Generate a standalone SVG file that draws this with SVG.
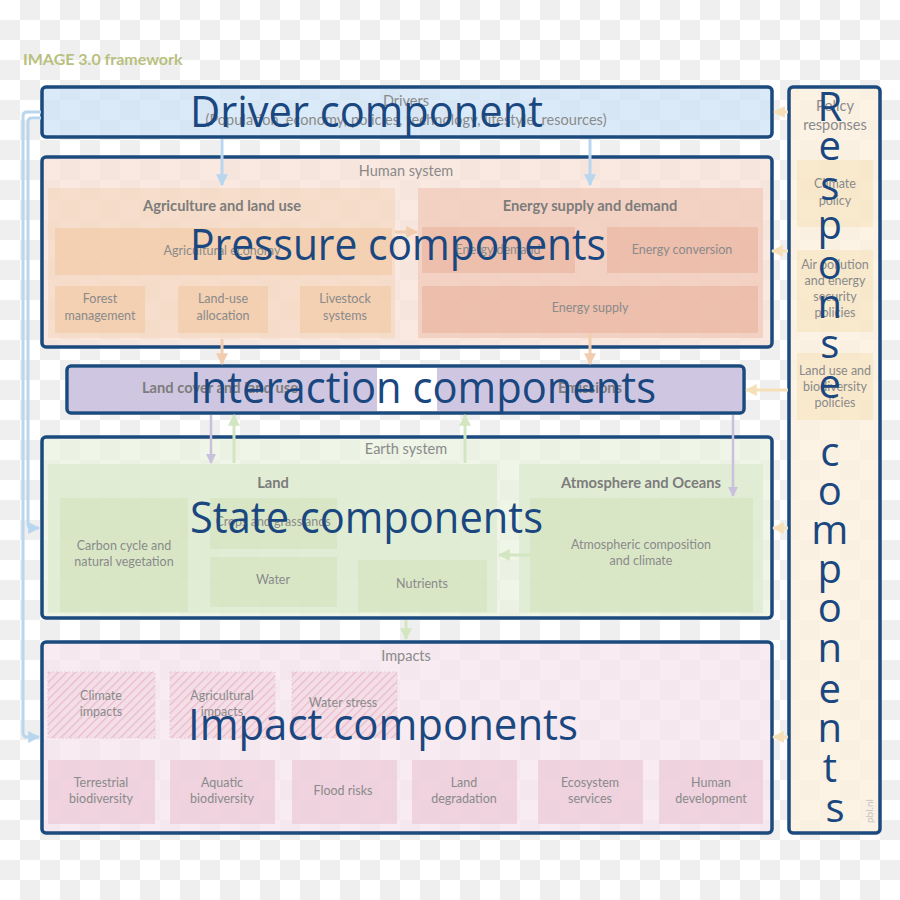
<svg xmlns="http://www.w3.org/2000/svg" width="900" height="900" viewBox="0 0 900 900">
<defs>
<pattern id="checker" x="0" y="0" width="40" height="40" patternUnits="userSpaceOnUse">
<rect width="40" height="40" fill="#ffffff"/>
<rect x="20" y="0" width="20" height="20" fill="#efefef"/>
<rect x="0" y="20" width="20" height="20" fill="#efefef"/>
</pattern>
<pattern id="hatch" width="6" height="6" patternUnits="userSpaceOnUse" patternTransform="rotate(45)">
<rect width="6" height="6" fill="#f3dbe4" fill-opacity="0.7"/>
<line x1="0" y1="0" x2="0" y2="6" stroke="#eab9c9" stroke-width="2.5"/>
</pattern>
<marker id="mBlue" viewBox="0 0 10 10" refX="9" refY="5" markerWidth="4" markerHeight="4" orient="auto" markerUnits="strokeWidth"><path d="M0,0 L10,5 L0,10 z" fill="#b9d6ef"/></marker>
<marker id="mPeach" viewBox="0 0 10 10" refX="9" refY="5" markerWidth="4" markerHeight="4" orient="auto" markerUnits="strokeWidth"><path d="M0,0 L10,5 L0,10 z" fill="#f2ccae"/></marker>
<marker id="mPurple" viewBox="0 0 10 10" refX="9" refY="5" markerWidth="4" markerHeight="4" orient="auto" markerUnits="strokeWidth"><path d="M0,0 L10,5 L0,10 z" fill="#c9c0dd"/></marker>
<marker id="mGreen" viewBox="0 0 10 10" refX="9" refY="5" markerWidth="4" markerHeight="4" orient="auto" markerUnits="strokeWidth"><path d="M0,0 L10,5 L0,10 z" fill="#d3e6c2"/></marker>
<marker id="mPolicy" viewBox="0 0 10 10" refX="9" refY="5" markerWidth="4" markerHeight="4" orient="auto" markerUnits="strokeWidth"><path d="M0,0 L10,5 L0,10 z" fill="#f6e0b9"/></marker>
</defs>
<style>
.frame{stroke:#1b4a7e;stroke-width:3.5;}
.lbl{font-family:Lato,"Open Sans",sans-serif;font-size:12.5px;fill:#8a8a8a;text-anchor:middle;}
.hdr{font-family:Lato,"Open Sans",sans-serif;font-size:14.5px;fill:#8a8a8a;text-anchor:middle;}
.ttl{font-family:Lato,"Open Sans",sans-serif;font-size:14.7px;font-weight:bold;fill:#7c7c7c;text-anchor:middle;}
.big{font-family:"Open Sans","Noto Sans",sans-serif;font-size:43px;fill:#1a4780;}
.vert{font-family:"Open Sans","Noto Sans",sans-serif;font-size:40px;fill:#1a4780;text-anchor:middle;}
.c-blue{fill:none;stroke:#b9d6ef;stroke-width:3;marker-end:url(#mBlue);}
.c-peach{fill:none;stroke:#f2ccae;stroke-width:3;marker-end:url(#mPeach);}
.c-purple{fill:none;stroke:#c9c0dd;stroke-width:2.5;marker-end:url(#mPurple);}
.c-green{fill:none;stroke:#d3e6c2;stroke-width:3;marker-end:url(#mGreen);}
.c-policy{fill:none;stroke:#f6e0b9;stroke-width:3;marker-end:url(#mPolicy);}
</style>

<rect width="900" height="900" fill="url(#checker)"/>

<text x="23" y="65" font-family="Lato,'Open Sans',sans-serif" font-size="16" font-weight="bold" fill="#b9c07f">IMAGE 3.0 framework</text>

<!-- Driver component -->
<g id="driver">
<rect x="42" y="87" width="730" height="50" rx="4" fill="#cde3f6" fill-opacity="0.75" class="frame"/>
<text x="406" y="106" class="hdr">Drivers</text>
<text x="406" y="125" class="hdr" textLength="401" lengthAdjust="spacing">(Population, economy, policies, technology, lifestyle, resources)</text>
</g>

<!-- Human system / Pressure components -->
<g id="human-system">
<rect x="42" y="157" width="730" height="190" rx="4" fill="#f8e2d6" fill-opacity="0.75" class="frame"/>
<text x="406" y="176" class="hdr">Human system</text>
<g id="agriculture">
<rect x="48" y="188" width="347" height="150" fill="#f5d6bd" fill-opacity="0.6"/>
<text x="222" y="211" class="ttl">Agriculture and land use</text>
<rect x="55" y="228" width="337" height="47" fill="#f0c69f" fill-opacity="0.55"/>
<text x="222" y="255" class="lbl">Agricultural economy</text>
<rect x="55" y="286" width="90" height="47" fill="#f0c69f" fill-opacity="0.55"/>
<text x="100" y="303" class="lbl">Forest</text>
<text x="100" y="320" class="lbl">management</text>
<rect x="178" y="286" width="90" height="47" fill="#f0c69f" fill-opacity="0.55"/>
<text x="223" y="303" class="lbl">Land-use</text>
<text x="223" y="320" class="lbl">allocation</text>
<rect x="300" y="286" width="91" height="47" fill="#f0c69f" fill-opacity="0.55"/>
<text x="345" y="303" class="lbl">Livestock</text>
<text x="345" y="320" class="lbl">systems</text>
</g>
<g id="energy">
<rect x="418" y="188" width="345" height="150" fill="#f1c6b4" fill-opacity="0.65"/>
<text x="590" y="211" class="ttl">Energy supply and demand</text>
<rect x="422" y="227" width="153" height="46" fill="#e7ae9a" fill-opacity="0.55"/>
<text x="498" y="254" class="lbl">Energy demand</text>
<rect x="607" y="227" width="151" height="46" fill="#e7ae9a" fill-opacity="0.55"/>
<text x="682" y="254" class="lbl">Energy conversion</text>
<rect x="422" y="286" width="336" height="47" fill="#e7ae9a" fill-opacity="0.55"/>
<text x="590" y="312" class="lbl">Energy supply</text>
</g>
</g>

<!-- Interaction components -->
<g id="interaction">
<rect x="67" y="366" width="677" height="47" rx="4" fill="#ffffff" class="frame"/>
<rect x="69" y="368" width="308" height="43" fill="#c3b9d9" fill-opacity="0.8"/>
<rect x="437" y="368" width="305" height="43" fill="#c3b9d9" fill-opacity="0.8"/>
<text x="220" y="393" class="ttl">Land cover and land use</text>
<text x="590" y="393" class="ttl">Emissions</text>
</g>

<!-- Earth system / State components -->
<g id="earth-system">
<rect x="42" y="437" width="730" height="181" rx="4" fill="#e9f1df" fill-opacity="0.75" class="frame"/>
<text x="406" y="454" class="hdr">Earth system</text>
<g id="land">
<rect x="48" y="464" width="449" height="149" fill="#dde9cd" fill-opacity="0.7"/>
<text x="273" y="488" class="ttl">Land</text>
<rect x="60" y="498" width="128" height="114" fill="#d3e2bd" fill-opacity="0.6"/>
<text x="124" y="550" class="lbl">Carbon cycle and</text>
<text x="124" y="566" class="lbl">natural vegetation</text>
<rect x="210" y="498" width="127" height="51" fill="#d3e2bd" fill-opacity="0.6"/>
<text x="273" y="526" class="lbl">Crops and grasslands</text>
<rect x="210" y="557" width="127" height="50" fill="#d3e2bd" fill-opacity="0.6"/>
<text x="273" y="584" class="lbl">Water</text>
<rect x="358" y="560" width="129" height="52" fill="#d3e2bd" fill-opacity="0.6"/>
<text x="422" y="588" class="lbl">Nutrients</text>
</g>
<g id="atmosphere">
<rect x="519" y="464" width="244" height="149" fill="#dde9cd" fill-opacity="0.7"/>
<text x="641" y="488" class="ttl">Atmosphere and Oceans</text>
<rect x="530" y="498" width="223" height="114" fill="#d3e2bd" fill-opacity="0.6"/>
<text x="641" y="549" class="lbl">Atmospheric composition</text>
<text x="641" y="565" class="lbl">and climate</text>
</g>
</g>

<!-- Impacts -->
<g id="impacts">
<rect x="42" y="642" width="730" height="191" rx="4" fill="#f6e4ec" fill-opacity="0.75" class="frame"/>
<text x="406" y="661" class="hdr">Impacts</text>
<rect x="48" y="672" width="107" height="66" fill="url(#hatch)" stroke="#e8c8d4" stroke-dasharray="2 2" stroke-width="0.8"/>
<text x="101" y="700" class="lbl">Climate</text>
<text x="101" y="716" class="lbl">impacts</text>
<rect x="170" y="672" width="105" height="66" fill="url(#hatch)" stroke="#e8c8d4" stroke-dasharray="2 2" stroke-width="0.8"/>
<text x="222" y="700" class="lbl">Agricultural</text>
<text x="222" y="716" class="lbl">impacts</text>
<rect x="292" y="672" width="105" height="66" fill="url(#hatch)" stroke="#e8c8d4" stroke-dasharray="2 2" stroke-width="0.8"/>
<text x="343" y="707" class="lbl">Water stress</text>
<rect x="48" y="760" width="107" height="64" fill="#ebc6d5" fill-opacity="0.65"/>
<text x="101" y="787" class="lbl">Terrestrial</text>
<text x="101" y="803" class="lbl">biodiversity</text>
<rect x="170" y="760" width="105" height="64" fill="#ebc6d5" fill-opacity="0.65"/>
<text x="222" y="787" class="lbl">Aquatic</text>
<text x="222" y="803" class="lbl">biodiversity</text>
<rect x="292" y="760" width="105" height="64" fill="#ebc6d5" fill-opacity="0.65"/>
<text x="343" y="795" class="lbl">Flood risks</text>
<rect x="412" y="760" width="105" height="64" fill="#ebc6d5" fill-opacity="0.65"/>
<text x="464" y="787" class="lbl">Land</text>
<text x="464" y="803" class="lbl">degradation</text>
<rect x="538" y="760" width="105" height="64" fill="#ebc6d5" fill-opacity="0.65"/>
<text x="590" y="787" class="lbl">Ecosystem</text>
<text x="590" y="803" class="lbl">services</text>
<rect x="659" y="760" width="104" height="64" fill="#ebc6d5" fill-opacity="0.65"/>
<text x="711" y="787" class="lbl">Human</text>
<text x="711" y="803" class="lbl">development</text>
</g>

<!-- Policy responses -->
<g id="policy-responses">
<rect x="789" y="87" width="91" height="746" rx="4" fill="#fbf0df" fill-opacity="0.8" class="frame"/>
<text x="835" y="111" class="hdr">Policy</text>
<text x="835" y="130" class="hdr">responses</text>
<rect x="797" y="160" width="76" height="67" fill="#f6e2bd" fill-opacity="0.6"/>
<text x="835" y="188" class="lbl">Climate</text>
<text x="835" y="205" class="lbl">policy</text>
<rect x="797" y="250" width="76" height="82" fill="#f6e2bd" fill-opacity="0.6"/>
<text x="835" y="269" class="lbl">Air pollution</text>
<text x="835" y="285" class="lbl">and energy</text>
<text x="835" y="301" class="lbl">security</text>
<text x="835" y="317" class="lbl">policies</text>
<rect x="797" y="353" width="76" height="67" fill="#f6e2bd" fill-opacity="0.6"/>
<text x="835" y="375" class="lbl">Land use and</text>
<text x="835" y="391" class="lbl">biodiversity</text>
<text x="835" y="407" class="lbl">policies</text>
<text x="873" y="823" transform="rotate(-90 873 823)" font-family="Lato,sans-serif" font-size="10" fill="#c4c4c4">pbl.nl</text>
</g>

<!-- Connectors -->
<g id="connectors">
<path d="M41,112 H27 Q23,112 23,116 V733 Q23,737 27,737 H39" class="c-blue"/>
<path d="M41,118 H32 Q28,118 28,122 V524 Q28,528 32,528 H39" class="c-blue"/>
<path d="M222,139 V185" class="c-blue"/>
<path d="M590,139 V185" class="c-blue"/>
<path d="M395,232 H417" class="c-peach"/>
<path d="M222,339 V364" class="c-peach"/>
<path d="M590,333 V364" class="c-peach"/>
<path d="M211,415 V463" class="c-purple"/>
<path d="M234,463 V415" class="c-green"/>
<path d="M465,463 V415" class="c-green"/>
<path d="M733,415 V496" class="c-purple"/>
<path d="M530,555 H499" class="c-green"/>
<path d="M406,620 V639" class="c-green"/>
<path d="M788,112 H774" class="c-policy"/>
<path d="M788,251 H772" class="c-policy"/>
<path d="M788,390 H746" class="c-policy"/>
<path d="M788,528 H773" class="c-policy"/>
<path d="M788,737 H773" class="c-policy"/>
</g>

<!-- Component labels -->
<g id="component-labels">
<text x="190" y="127" class="big" textLength="353" lengthAdjust="spacingAndGlyphs">Driver component</text>
<text x="190" y="260" class="big" textLength="416" lengthAdjust="spacingAndGlyphs">Pressure components</text>
<text x="190" y="403" class="big" textLength="466" lengthAdjust="spacingAndGlyphs">Interaction components</text>
<text x="190" y="533" class="big" textLength="353" lengthAdjust="spacingAndGlyphs">State components</text>
<text x="188" y="740" class="big" textLength="390" lengthAdjust="spacingAndGlyphs">Impact components</text>
<text class="vert">
<tspan x="835" y="121">R</tspan>
<tspan x="835" y="160">e</tspan>
<tspan x="835" y="200">s</tspan>
<tspan x="835" y="239">p</tspan>
<tspan x="835" y="279">o</tspan>
<tspan x="835" y="318">n</tspan>
<tspan x="835" y="358">s</tspan>
<tspan x="835" y="398">e</tspan>
<tspan x="835" y="466">c</tspan>
<tspan x="835" y="505">o</tspan>
<tspan x="835" y="544">m</tspan>
<tspan x="835" y="583">p</tspan>
<tspan x="835" y="622">o</tspan>
<tspan x="835" y="662">n</tspan>
<tspan x="835" y="703">e</tspan>
<tspan x="835" y="742">n</tspan>
<tspan x="835" y="782">t</tspan>
<tspan x="835" y="822">s</tspan>
</text>
</g>
</svg>
